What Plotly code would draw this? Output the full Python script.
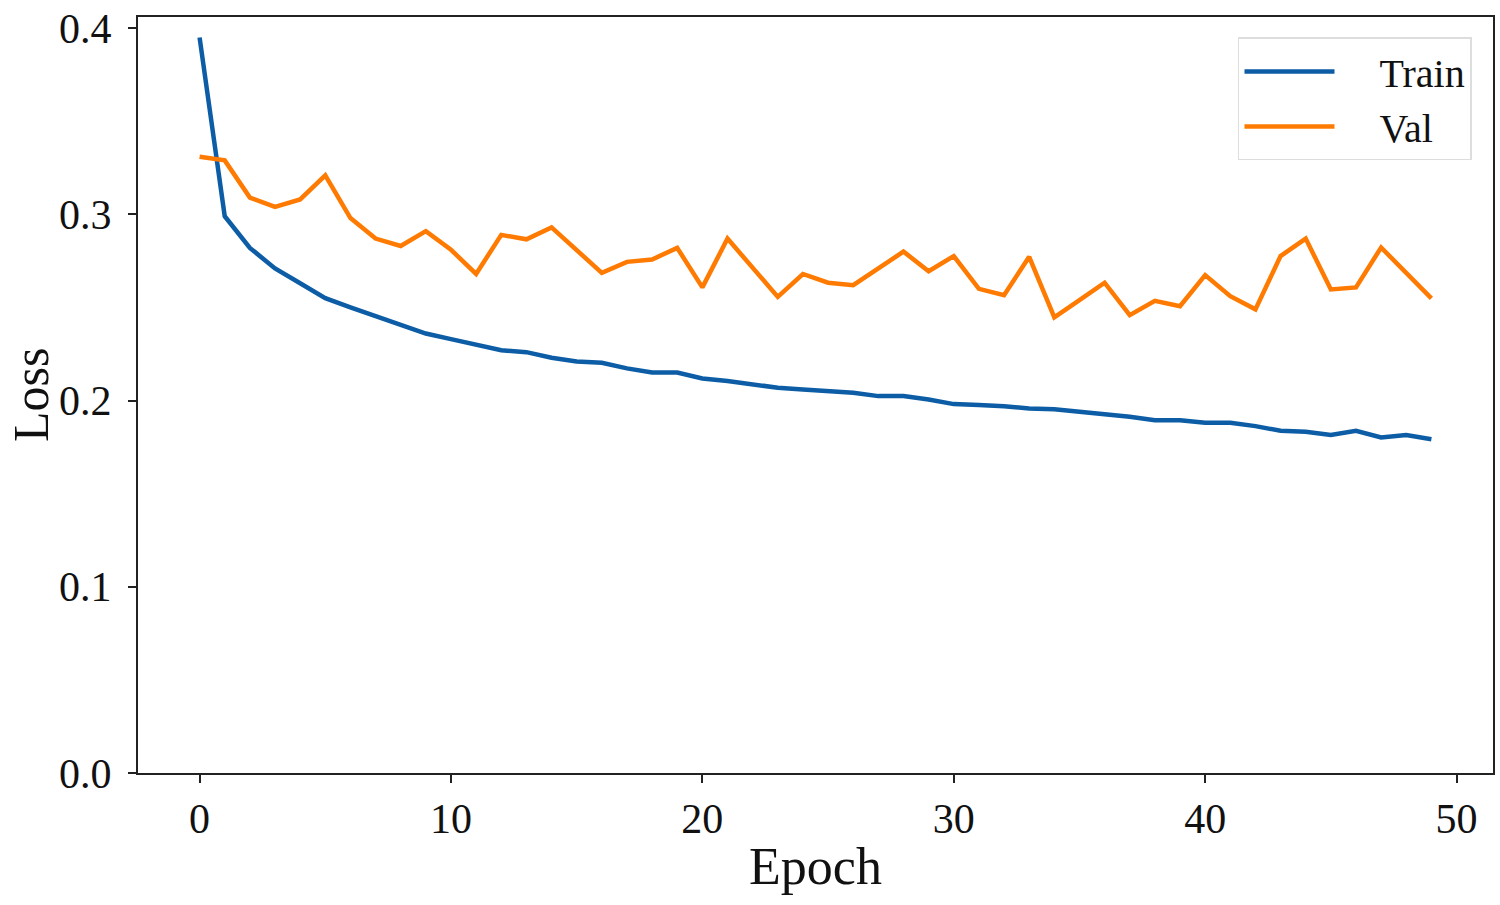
import plotly.graph_objects as go

epochs = list(range(50))

train_loss = [0.395, 0.299, 0.282, 0.271, 0.263, 0.255, 0.250, 0.2455, 0.241, 0.236,
              0.233, 0.230, 0.227, 0.226, 0.223, 0.221, 0.2203, 0.2173, 0.2151, 0.2151,
              0.2119, 0.2105, 0.2089, 0.2069, 0.206, 0.2053, 0.2042, 0.2024, 0.2024, 0.2006,
              0.1981, 0.1976, 0.1970, 0.1958, 0.1953, 0.194, 0.1928, 0.1913, 0.1895, 0.1895,
              0.1881, 0.1881, 0.1863, 0.1838, 0.1833, 0.1815, 0.1838, 0.1802, 0.1815, 0.1792]

val_loss = [0.331, 0.329, 0.309, 0.304, 0.308, 0.321, 0.298, 0.287, 0.283, 0.291,
            0.281, 0.268, 0.289, 0.2866, 0.293, 0.281, 0.2686, 0.2745, 0.2758, 0.282,
            0.2608, 0.287, 0.2718, 0.2557, 0.268, 0.2633, 0.262, 0.271, 0.280, 0.2695,
            0.2776, 0.260, 0.2566, 0.2772, 0.2447, 0.254, 0.2633, 0.2459, 0.2536, 0.2507,
            0.2674, 0.2561, 0.249, 0.2776, 0.287, 0.2597, 0.2608, 0.2822, 0.2683, 0.2549]

serif = "Liberation Serif, DejaVu Serif, serif"

fig = go.Figure()
fig.add_trace(go.Scatter(x=epochs, y=train_loss, mode="lines", name="\u2003Train",
                         line=dict(color="#0C5DA5", width=4.5)))
fig.add_trace(go.Scatter(x=epochs, y=val_loss, mode="lines", name="\u2003Val",
                         line=dict(color="#FF7A00", width=4.5)))

axis_style = dict(showline=True, linecolor="#222", linewidth=2, mirror=True,
                  ticks="outside", ticklen=8, tickwidth=1.5, tickcolor="#222",
                  showgrid=False, zeroline=False, ticklabeloverflow="allow",
                  automargin=False,
                  tickfont=dict(family=serif, size=42, color="#111"))

fig.update_layout(
    width=1500, height=905,
    paper_bgcolor="white", plot_bgcolor="white",
    margin=dict(l=138, r=7, t=17, b=132),
    font=dict(family=serif, color="#111"),
    xaxis=dict(range=[-2.45, 51.45], tickvals=[0, 10, 20, 30, 40, 50],
               ticklabelstandoff=0,
               title=dict(text="Epoch", font=dict(family=serif, size=52), standoff=6),
               **axis_style),
    yaxis=dict(range=[0, 0.406], tickvals=[0, 0.1, 0.2, 0.3, 0.4], tickformat=".1f",
               ticklabelstandoff=8, **axis_style),
    legend=dict(x=0.9845, y=0.973, xanchor="right", yanchor="top",
                bgcolor="white", bordercolor="#ddd", borderwidth=1.5,
                font=dict(family=serif, size=40), itemwidth=90),
    showlegend=True,
)

# y title as an annotation so it sits left of the tick labels
fig.add_annotation(text="Loss", xref="paper", yref="paper", x=-0.079, y=0.5,
                   xanchor="center", yanchor="middle", textangle=-90, showarrow=False,
                   font=dict(family=serif, size=50, color="#111"))

# drop the default page margin so the figure starts at the window's corner
fig.write_html("out.html", config={"displayModeBar": False},
               post_script="document.body.style.margin='0';")
